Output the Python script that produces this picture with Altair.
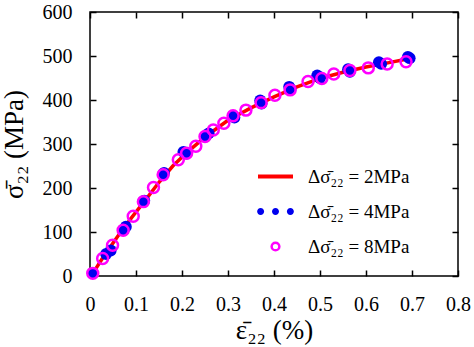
import altair as alt
import pandas as pd

FONT = "Liberation Serif"

# ---- data ----
line_x = [0.006, 0.03, 0.06, 0.09, 0.12, 0.15, 0.18, 0.21, 0.25, 0.30, 0.35, 0.40, 0.45, 0.50, 0.55, 0.60, 0.65, 0.69]
line_y = [6, 45, 90, 132, 172, 213, 250, 280, 316, 354, 382, 407, 430, 449, 463, 475, 485, 493]

blue_x = [0.006, 0.035, 0.045, 0.073, 0.078, 0.116, 0.118, 0.159, 0.161, 0.203, 0.210, 0.252, 0.258,
          0.311, 0.314, 0.370, 0.373, 0.433, 0.436, 0.494, 0.500, 0.561, 0.565, 0.628, 0.633, 0.691, 0.695]
blue_y = [6, 50, 58, 104, 112, 169, 171, 232, 234, 282, 278, 318, 324,
          364, 360, 399, 392, 430, 424, 456, 450, 470, 464, 486, 482, 498, 495]

mag_x = [0.006, 0.0275, 0.049, 0.072, 0.094, 0.116, 0.138, 0.159, 0.192, 0.210, 0.230, 0.250, 0.268,
         0.291, 0.311, 0.339, 0.372, 0.402, 0.435, 0.474, 0.504, 0.530, 0.565, 0.605, 0.646, 0.687]
mag_y = [6, 40, 70, 104, 136, 169, 201, 230, 264, 279, 295, 317, 332,
         347, 364, 377, 394, 411, 423, 442, 449, 459, 467, 473, 482, 487]

series = ["Δσ\u0304₂₂ = 2MPa", "Δσ\u0304₂₂ = 4MPa", "Δσ\u0304₂₂ = 8MPa"]
x_ticks = [0, 0.1, 0.2, 0.3, 0.4, 0.5, 0.6, 0.7, 0.8]
y_ticks = [0, 100, 200, 300, 400, 500, 600]
x_title = "ε\u0304₂₂ (%)"
y_title = "σ\u0304₂₂ (MPa)"

line_df = pd.DataFrame({"x": line_x, "y": line_y})
blue_df = pd.DataFrame({"x": blue_x, "y": blue_y})
mag_df = pd.DataFrame({"x": mag_x, "y": mag_y})
leg_df = pd.DataFrame({"series": series, "x": [None] * 3, "y": [None] * 3})

xs = alt.Scale(domain=[0, 0.8], nice=False, zero=False)
ys = alt.Scale(domain=[0, 600], nice=False, zero=False)

common = dict(domain=False, grid=False, ticks=True, tickSize=6, tickColor="black",
              tickWidth=1.5, offset=-6, labelFont=FONT, labelFontSize=20,
              labelColor="black", labelFlush=False, titleFont=FONT, titleFontSize=27,
              titleFontWeight="normal", titleColor="black")

x_bottom = alt.Axis(orient="bottom", values=x_ticks,
                    labelExpr="datum.value == 0 ? '0' : format(datum.value, '.1f')",
                    labelPadding=18, title=x_title, titlePadding=3, **common)
y_left = alt.Axis(orient="left", values=y_ticks, format="d", labelPadding=18,
                  title=y_title, titlePadding=14, **common)
x_top = alt.Axis(orient="top", values=x_ticks, labels=False, title=None, **common)
y_right = alt.Axis(orient="right", values=y_ticks, labels=False, title=None, **common)

line = alt.Chart(line_df).mark_line(color="#ff0000", strokeWidth=3.5).encode(
    x=alt.X("x:Q", scale=xs, axis=x_bottom),
    y=alt.Y("y:Q", scale=ys, axis=y_left),
)

blue = alt.Chart(blue_df).mark_point(filled=True, color="#0000ee", size=140, opacity=1).encode(
    x=alt.X("x:Q", scale=xs, axis=x_top),
    y=alt.Y("y:Q", scale=ys, axis=y_right),
)

mag = alt.Chart(mag_df).mark_point(filled=False, color="#ff00ff", size=120, strokeWidth=2.5, opacity=1).encode(
    x=alt.X("x:Q", scale=xs, axis=None),
    y=alt.Y("y:Q", scale=ys, axis=None),
)

line_path = "M -1,0 L 1,0"
dots_path = ("M -1.05,0 A 0.2,0.2 0 1,0 -0.65,0 A 0.2,0.2 0 1,0 -1.05,0 Z "
             "M -0.2,0 A 0.2,0.2 0 1,0 0.2,0 A 0.2,0.2 0 1,0 -0.2,0 Z "
             "M 0.65,0 A 0.2,0.2 0 1,0 1.05,0 A 0.2,0.2 0 1,0 0.65,0 Z")
ring_path = "M -0.22,0 A 0.22,0.22 0 1,0 0.22,0 A 0.22,0.22 0 1,0 -0.22,0 Z"

legend = alt.Legend(title=None, orient="none", legendX=166, legendY=147, padding=0,
                    labelFont=FONT, labelFontSize=19, labelColor="black",
                    labelOffset=13, rowPadding=0, clipHeight=35, symbolOpacity=1,
                    symbolSize=1225)

leg = alt.Chart(leg_df).mark_point(filled=True, opacity=1, size=1225).encode(
    x=alt.X("x:Q", scale=xs, axis=None),
    y=alt.Y("y:Q", scale=ys, axis=None),
    shape=alt.Shape("series:N", scale=alt.Scale(domain=series, range=[line_path, dots_path, ring_path]), legend=legend),
    stroke=alt.Stroke("series:N", scale=alt.Scale(domain=series, range=["#ff0000", "#0000ee", "#ff00ff"]), legend=legend),
    fill=alt.Fill("series:N", scale=alt.Scale(domain=series, range=["#ff0000", "#0000ee", "transparent"]), legend=legend),
    strokeWidth=alt.StrokeWidth("series:N", scale=alt.Scale(type="ordinal", domain=series, range=[4, 0, 2.5]), legend=legend),
)

chart = alt.layer(line, blue, mag, leg).resolve_axis(x="independent", y="independent").properties(
    width=368, height=264,
    autosize=alt.AutoSizeParams(type="none"),
    padding={"left": 90, "top": 12, "right": 16, "bottom": 71},
    background="white",
).configure(font=FONT).configure_axis(labelFont=FONT, titleFont=FONT).configure_legend(
    labelFont=FONT
).configure_view(stroke="black", strokeWidth=1.5)

chart.save("out.html", embed_options={"renderer": "svg", "actions": False})
